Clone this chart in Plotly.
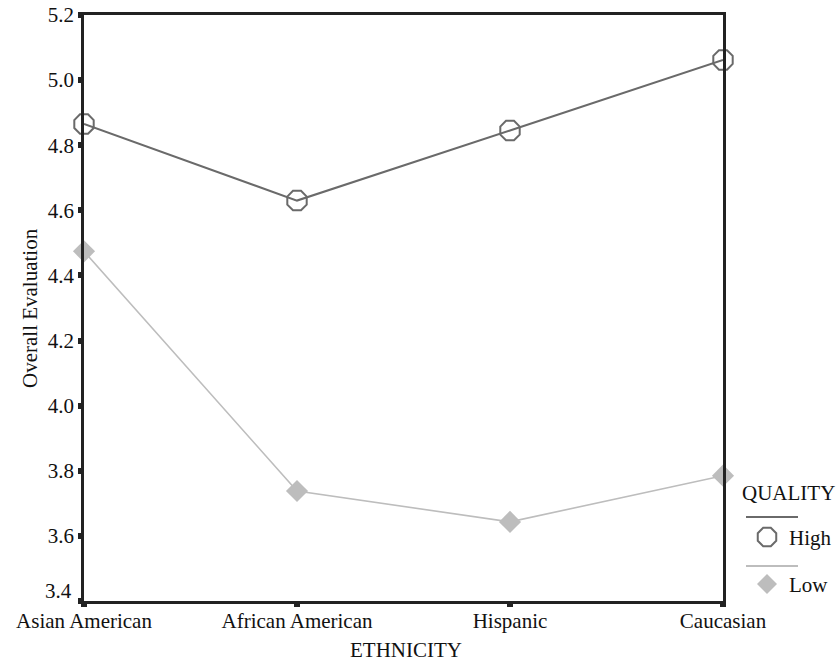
import math
import plotly.graph_objects as go

categories = ["Asian American", "African American", "Hispanic", "Caucasian"]
high_values = [4.865, 4.630, 4.845, 5.062]
low_values = [4.474, 3.738, 3.643, 3.785]
y_ticks = [3.4, 3.6, 3.8, 4.0, 4.2, 4.4, 4.6, 4.8, 5.0, 5.2]
legend_title = "QUALITY"
legend_labels = ["High", "Low"]

W, H = 840, 661
L, R, T, B = 84, 723, 15, 601
FONT = "Liberation Serif"
FS = 21
HIGH_COLOR = "#6a6a6a"
LOW_COLOR = "#bdbdbd"

def px(x):
    return (x - L) / (R - L)

def py(y):
    return (B - y) / (B - T)

def poly_path(cx, cy, r, n, rot):
    pts = []
    for i in range(n):
        a = rot + 2 * math.pi * i / n
        pts.append((px(cx + r * math.cos(a)), py(cy + r * math.sin(a))))
    return "M " + " L ".join(f"{x:.5f},{y:.5f}" for x, y in pts) + " Z"

fig = go.Figure()
xs = list(range(len(categories)))
fig.add_trace(go.Scatter(
    x=xs, y=high_values, mode="lines+markers",
    line=dict(color=HIGH_COLOR, width=2),
    marker=dict(symbol="octagon-open", size=21, color=HIGH_COLOR, line=dict(width=2, color=HIGH_COLOR)),
    cliponaxis=False, name=legend_labels[0]))
fig.add_trace(go.Scatter(
    x=xs, y=low_values, mode="lines+markers",
    line=dict(color=LOW_COLOR, width=1.6),
    marker=dict(symbol="diamond", size=17, color=LOW_COLOR),
    cliponaxis=False, name=legend_labels[1]))

shapes = [
    dict(type="line", xref="paper", yref="paper", x0=px(746), x1=px(798), y0=py(517), y1=py(517),
         line=dict(color=HIGH_COLOR, width=2)),
    dict(type="line", xref="paper", yref="paper", x0=px(746), x1=px(798), y0=py(566), y1=py(566),
         line=dict(color=LOW_COLOR, width=2)),
    dict(type="path", xref="paper", yref="paper", path=poly_path(767, 537, 10, 8, math.pi / 8),
         line=dict(color=HIGH_COLOR, width=2), fillcolor="rgba(0,0,0,0)"),
    dict(type="path", xref="paper", yref="paper", path=poly_path(767, 584, 10, 4, 0),
         line=dict(color=LOW_COLOR, width=0), fillcolor=LOW_COLOR),
]
tick_text = [f"{v:.1f}" for v in y_ticks]
bottom_label = tick_text[0]
tick_text[0] = ""
annotations = [
    dict(text=bottom_label, xref="paper", yref="paper", x=px(74), y=py(591), xanchor="right", yanchor="middle",
         showarrow=False, font=dict(family=FONT, size=FS, color="#111")),
    dict(text=legend_title, xref="paper", yref="paper", x=px(740), y=py(493), xanchor="left", yanchor="middle",
         showarrow=False, font=dict(family=FONT, size=FS, color="#111")),
    dict(text=legend_labels[0], xref="paper", yref="paper", x=px(787), y=py(538), xanchor="left", yanchor="middle",
         showarrow=False, font=dict(family=FONT, size=FS, color="#111")),
    dict(text=legend_labels[1], xref="paper", yref="paper", x=px(787), y=py(585), xanchor="left", yanchor="middle",
         showarrow=False, font=dict(family=FONT, size=FS, color="#111")),
    dict(text="Overall Evaluation", xref="paper", yref="paper", x=px(30), y=py(308), textangle=-90,
         xanchor="center", yanchor="middle", showarrow=False, font=dict(family=FONT, size=FS, color="#111")),
    dict(text="ETHNICITY", xref="paper", yref="paper", x=px(406), y=py(650),
         xanchor="center", yanchor="middle", showarrow=False, font=dict(family=FONT, size=FS, color="#111")),
]

fig.update_layout(
    width=W, height=H, autosize=False,
    margin=dict(l=L, r=W - R, t=T, b=H - B, pad=0),
    paper_bgcolor="white", plot_bgcolor="white",
    showlegend=False,
    font=dict(family=FONT, size=FS, color="#111"),
    shapes=shapes, annotations=annotations,
    xaxis=dict(
        range=[0, 3], tickvals=xs, ticktext=categories, automargin=False,
        showgrid=False, zeroline=False,
        showline=True, linecolor="#222", linewidth=2.5, mirror=True,
        ticks="outside", ticklen=3, tickwidth=6, tickcolor="#222", ticklabelstandoff=-4,
        tickfont=dict(family=FONT, size=FS, color="#111")),
    yaxis=dict(
        range=[3.4, 5.2], tickvals=y_ticks, ticktext=tick_text, automargin=False,
        showgrid=False, zeroline=False,
        showline=True, linecolor="#222", linewidth=2.5, mirror=True,
        ticks="outside", ticklen=3, tickwidth=6, tickcolor="#222",
        tickfont=dict(family=FONT, size=FS, color="#111")),
)

fig.write_html("out.html", config={"displayModeBar": False},
               post_script="document.body.style.margin='0';document.body.style.overflow='hidden';")
